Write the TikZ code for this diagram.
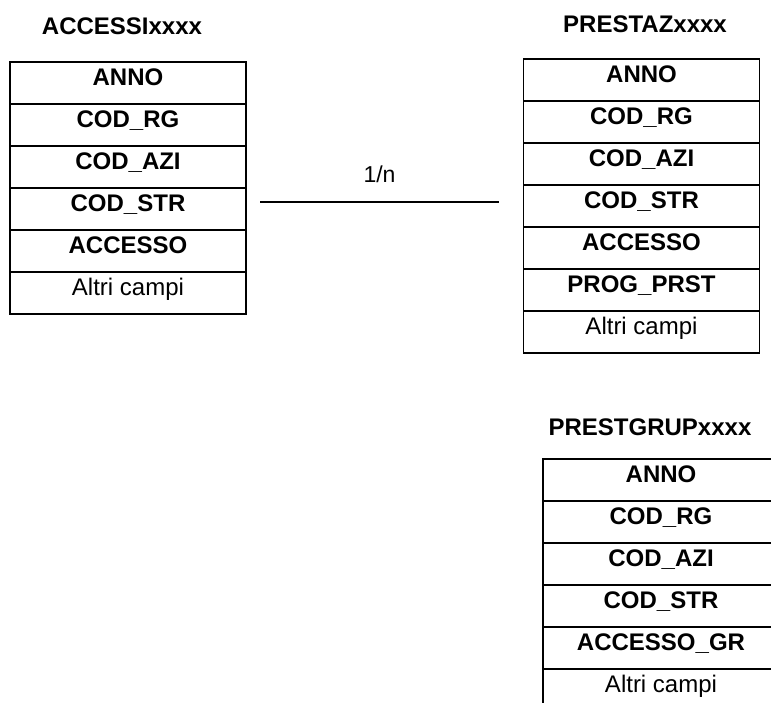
\documentclass[tikz,border=0pt]{standalone}
\usepackage{fontspec}
\setmainfont{Liberation Sans}
\usetikzlibrary{positioning}

\begin{document}
\begin{tikzpicture}[x=1pt, y=-1pt,
  field/.style={draw, line width=1.4pt, outer sep=0pt, inner xsep=2pt, inner ysep=0pt,
    minimum width=236pt, text height=23pt, text depth=19pt,
    font=\fontsize{24}{28}\selectfont\bfseries},
  other/.style={field, font=\fontsize{24}{28}\selectfont},
  tabname/.style={font=\fontsize{24}{28}\selectfont\bfseries}]
% frame
\useasboundingbox (0,0) rectangle (771,702);
\clip (0,0) rectangle (771,702);
% ACCESSI table
\node[tabname] (acc-name) at (122,26) {ACCESSIxxxx};
\node[field] (acc-anno) at (128,83) {ANNO};
\node[field, below=0pt of acc-anno] (acc-rg)  {COD\_RG};
\node[field, below=0pt of acc-rg]   (acc-azi) {COD\_AZI};
\node[field, below=0pt of acc-azi]  (acc-str) {COD\_STR};
\node[field, below=0pt of acc-str]  (acc-acc) {ACCESSO};
\node[other, below=0pt of acc-acc]  (acc-alt) {Altri campi};
% PRESTAZ table
\node[tabname] (pre-name) at (645,24) {PRESTAZxxxx};
\node[field] (pre-anno) at (641.5,80) {ANNO};
\node[field, below=0pt of pre-anno] (pre-rg)   {COD\_RG};
\node[field, below=0pt of pre-rg]   (pre-azi)  {COD\_AZI};
\node[field, below=0pt of pre-azi]  (pre-str)  {COD\_STR};
\node[field, below=0pt of pre-str]  (pre-acc)  {ACCESSO};
\node[field, below=0pt of pre-acc]  (pre-prog) {PROG\_PRST};
\node[other, below=0pt of pre-prog] (pre-alt)  {Altri campi};
% PRESTGRUP table
\node[tabname] (grp-name) at (650,427) {PRESTGRUPxxxx};
\node[field] (grp-anno) at (661,480) {ANNO};
\node[field, below=0pt of grp-anno] (grp-rg)  {COD\_RG};
\node[field, below=0pt of grp-rg]   (grp-azi) {COD\_AZI};
\node[field, below=0pt of grp-azi]  (grp-str) {COD\_STR};
\node[field, below=0pt of grp-str]  (grp-acc) {ACCESSO\_GR};
\node[other, below=0pt of grp-acc]  (grp-alt) {Altri campi};
% 1/n relation
\coordinate (rel-l) at (260,202);
\coordinate (rel-r) at (499,202);
\draw[line width=1.4pt] (rel-l) -- node[above=15pt, font=\fontsize{23}{27}\selectfont] (rel-card) {1/n} (rel-r);
\end{tikzpicture}
\end{document}
